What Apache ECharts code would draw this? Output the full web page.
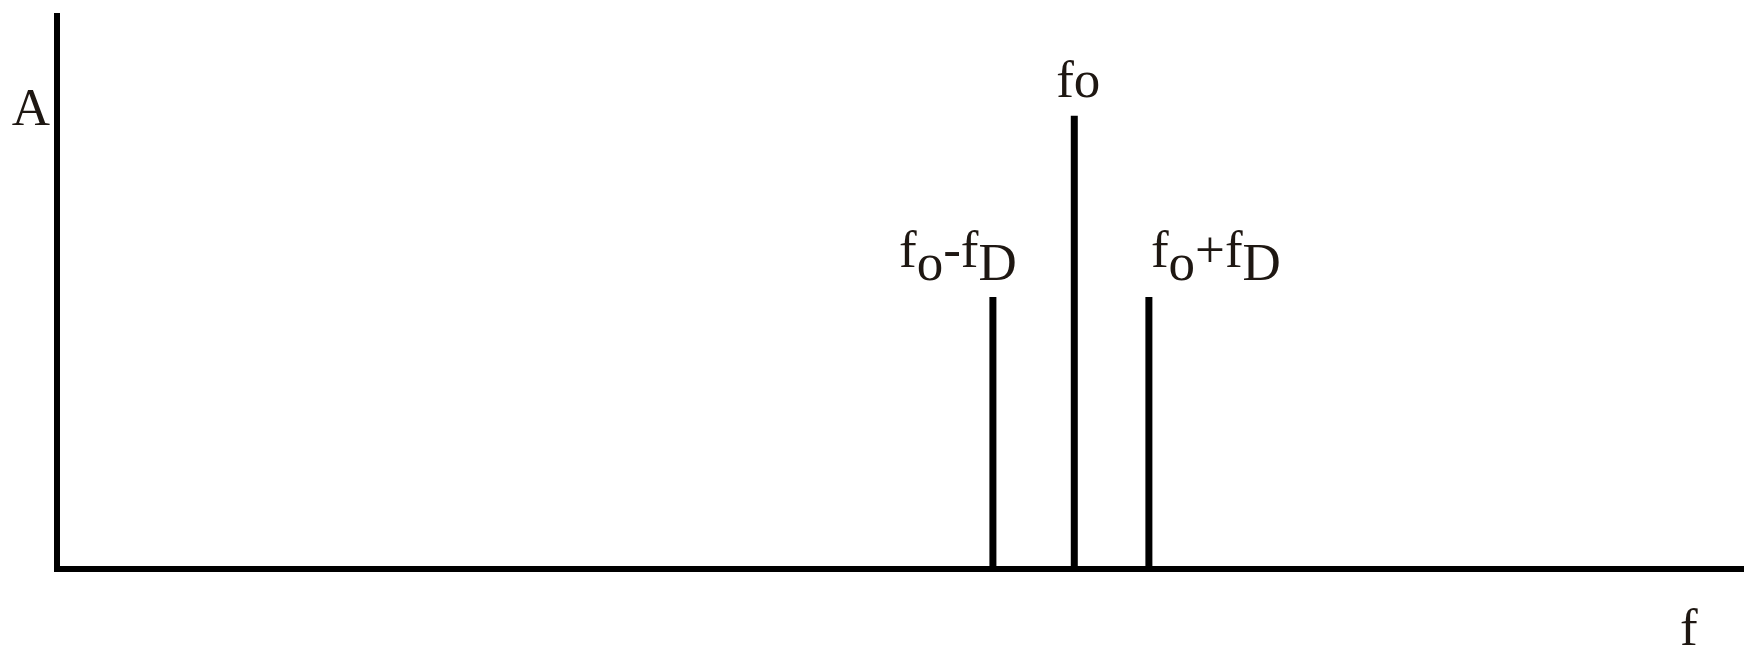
<!DOCTYPE html>
<html>
<head>
<meta charset="utf-8">
<title>Spectrum: carrier and Doppler sidebands</title>
<script src="https://cdn.jsdelivr.net/npm/echarts@6/dist/echarts.min.js"></script>
<style>
  html, body { margin: 0; padding: 0; background: #ffffff; }
  #chart { width: 1744px; height: 646px; }
</style>
</head>
<body>
<div id="chart"></div>
<script>
// Spectral lines: carrier f0 and the two Doppler sidebands f0 - fD, f0 + fD
const frequencies = [11.04, 12.0, 12.88];
const amplitudes = [0.6, 1.0, 0.6];
// "_x" marks a lowered (subscript) character
const lineLabels = ['f_o-f_D', 'fo', 'f_o+f_D'];
const axisNames = { x: 'f', y: 'A' };

const INK = '#1e1712';
const FONT = '"Liberation Serif", "Times New Roman", serif';
const FS = 53;

// label placement for each spectral line
const labelShift = [-35, 4, 67];
const labelGap = [14, 3, 14];

function toRich(s) {
  let out = '';
  for (let i = 0; i < s.length; i++) {
    if (s[i] === '_' && i + 1 < s.length) {
      out += '{s|' + s[i + 1] + '}';
      i++;
    } else {
      out += '{m|' + s[i] + '}';
    }
  }
  return out;
}

const chart = echarts.init(document.getElementById('chart'), null, { renderer: 'canvas' });

const option = {
  backgroundColor: '#ffffff',
  animation: false,
  grid: { left: 57, right: 0, top: 16, bottom: 77, containLabel: false, outerBoundsMode: 'none' },
  xAxis: {
    type: 'value',
    min: 0,
    max: 19.9,
    name: axisNames.x,
    nameLocation: 'end',
    nameGap: -64,
    nameTextStyle: {
      fontFamily: FONT, fontSize: FS, color: INK,
      align: 'left', verticalAlign: 'top', padding: [36, 0, 0, 0]
    },
    axisLine: { show: true, lineStyle: { color: '#000', width: 6, cap: 'square' } },
    axisTick: { show: false },
    axisLabel: { show: false },
    splitLine: { show: false }
  },
  yAxis: {
    type: 'value',
    min: 0,
    max: 1.22,
    name: axisNames.y,
    nameLocation: 'end',
    nameGap: -95,
    nameTextStyle: {
      fontFamily: FONT, fontSize: FS, color: INK,
      align: 'right', verticalAlign: 'middle', padding: [0, 7, 0, 0]
    },
    axisLine: { show: true, lineStyle: { color: '#000', width: 6, cap: 'square' } },
    axisTick: { show: false },
    axisLabel: { show: false },
    splitLine: { show: false }
  },
  series: [{
    type: 'bar',
    barWidth: 7,
    itemStyle: { color: '#000' },
    data: frequencies.map((f, i) => ({
      value: [f, amplitudes[i]],
      label: {
        show: true,
        position: 'top',
        distance: labelGap[i],
        offset: [labelShift[i], 0],
        formatter: toRich(lineLabels[i]),
        rich: {
          m: { fontFamily: FONT, fontSize: FS, color: INK, lineHeight: 56, verticalAlign: 'top' },
          s: { fontFamily: FONT, fontSize: FS, color: INK, lineHeight: 56, verticalAlign: 'top', padding: [13, 0, 0, 0] }
        }
      }
    }))
  }]
};

chart.setOption(option);
</script>
</body>
</html>
